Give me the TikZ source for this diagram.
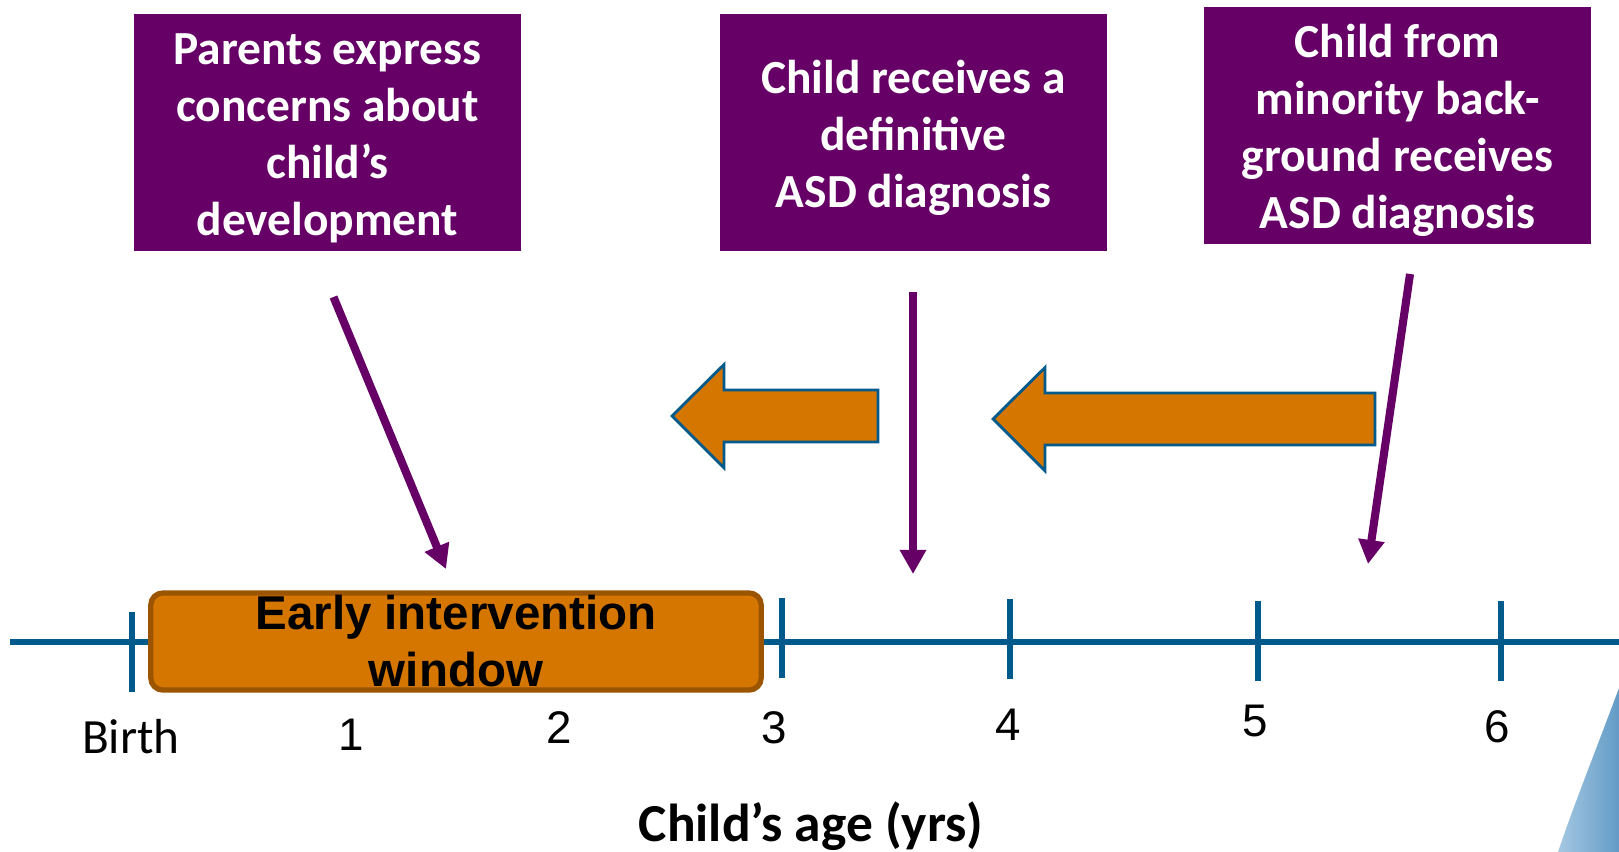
\documentclass[tikz,border=0pt]{standalone}
\usepackage{fontspec}
\setmainfont{Carlito}
\newfontfamily\arialfont{Liberation Sans}
\usetikzlibrary{arrows.meta}

\definecolor{asdpurple}{RGB}{102,0,102}
\definecolor{asdorange}{RGB}{212,118,0}
\definecolor{asdbrown}{RGB}{155,85,0}
\definecolor{asdblue}{RGB}{0,90,140}
\definecolor{asdlight}{RGB}{165,200,226}
\definecolor{asddark}{RGB}{98,155,198}

\begin{document}
\begin{tikzpicture}[x=0.01cm,y=-0.01cm,
  eventbox/.style={fill=asdpurple, inner sep=0pt,
    minimum width=3.87cm, minimum height=2.365cm},
  event/.style={text=white, align=center, inner sep=0pt,
    font=\fontsize{13.5}{16.2}\selectfont\bfseries},
  pointer/.style={draw=asdpurple, line width=2.3pt,
    -{Triangle[width=0.25cm,length=0.24cm]}},
  backarrow/.style={fill=asdorange, draw=asdblue, line width=0.8pt},
  yeartick/.style={draw=asdblue, line width=1.6pt},
  ewindow/.style={draw=asdbrown, fill=asdorange, line width=1.5pt,
    rounded corners=0.12cm, minimum width=6.1cm, minimum height=0.97cm,
    inner sep=0pt, align=center, font=\arialfont\bfseries\fontsize{13.5}{16.2}\selectfont},
  age/.style={font=\arialfont\fontsize{13}{15}\selectfont}]
  \useasboundingbox (0,0) rectangle (1619,852);

  % corner decoration
  \shade[left color=asdlight, right color=asddark]
    (1619,688) .. controls (1592,760) and (1572,810) .. (1558,852)
    -- (1619,852) -- cycle;

  % timeline
  \draw[asdblue, line width=1.7pt] (10,642) -- (1619,642);
  \foreach \x/\t in {132/612, 782/598, 1010/599, 1258/601, 1501/601}
    \draw[yeartick] (\x,\t) -- ++(0,80);

  \node[ewindow] (window) at (456,641.5) {Early intervention\\window};

  \node[font=\fontsize{14}{16}\selectfont] (birth) at (131,737) {Birth};
  \node[age] (one) at (351,735) {1};
  \node[age] (two) at (559,728) {2};
  \node[age] (three) at (774,728) {3};
  \node[age] (four) at (1008,725) {4};
  \node[age] (five) at (1255,721) {5};
  \node[age] (six) at (1497,727) {6};
  \node[font=\fontsize{15.2}{18}\selectfont\bfseries] (axis) at (811,826) {Child’s age (yrs)};

  % events
  \node[eventbox] (parentsbox) at (327.5,132.7) {};
  \node[eventbox] (definitivebox) at (913.5,132.7) {};
  \node[eventbox] (minoritybox) at (1397.5,125.5) {};
  \node[event] (parents) at ([yshift=-0.052cm]parentsbox.center) {Parents express\\concerns about\\child’s\\development};
  \node[event] (definitive) at ([yshift=-0.052cm]definitivebox.center) {Child receives a\\definitive\\ASD diagnosis};
  \node[event] (minority) at ([yshift=-0.05cm]minoritybox.center) {Child from\\minority back-\\ground receives\\ASD diagnosis};

  % shift to earlier age
  \draw[backarrow] (672,416) -- (724,364.5) -- (724,390) -- (878,390)
    -- (878,442) -- (724,442) -- (724,468) -- cycle;
  \draw[backarrow] (993,419) -- (1045,367.5) -- (1045,393) -- (1375,393)
    -- (1375,445) -- (1045,445) -- (1045,471) -- cycle;

  \coordinate (from1) at (333.5,297);
  \coordinate (to1) at (446,569);
  \coordinate (from2) at (913,292);
  \coordinate (to2) at (913,574);
  \coordinate (from3) at (1410,274);
  \coordinate (to3) at (1368,564);
  \draw[pointer] (from1) -- (to1);
  \draw[pointer] (from2) -- (to2);
  \draw[pointer] (from3) -- (to3);
\end{tikzpicture}
\end{document}
